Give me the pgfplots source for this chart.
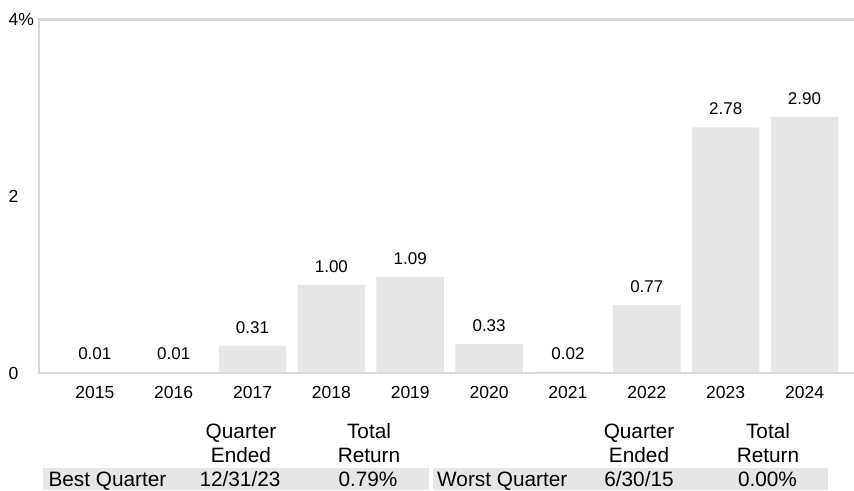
\documentclass[border=0pt]{standalone}
\usepackage{pgfplots}
\pgfplotsset{compat=1.18}
\usepackage{fontspec}
\setmainfont{Liberation Sans}

\definecolor{bargray}{HTML}{E6E6E6}
\definecolor{framegray}{HTML}{D9D9D9}

\begin{document}
\begin{tikzpicture}
\path[use as bounding box] (0,0) rectangle (854pt,490pt);

\begin{axis}[
    at={(39.3pt,116.7pt)}, anchor=south west,
    scale only axis,
    width=828.3pt, height=353.8pt,
    xmin=-0.704, xmax=9.8,
    ymin=0, ymax=4,
    ybar, bar width=67.5pt,
    xtick={0,...,9},
    xticklabels={2015,2016,2017,2018,2019,2020,2021,2022,2023,2024},
    ytick={0,2,4},
    yticklabels={0,2,4\%},
    major tick length=0pt,
    axis on top,
    clip=false,
    axis line style={draw=framegray, line width=2.2pt},
    ticklabel style={font=\fontsize{17.5}{20}\selectfont},
    xticklabel style={anchor=base, inner sep=0pt, yshift=-25pt},
    yticklabel style={anchor=west, inner sep=0pt, xshift=-30.8pt},
    nodes near coords={\pgfmathprintnumber[fixed,fixed zerofill,precision=2,assume math mode=true]{\pgfplotspointmeta}},
    every node near coord/.append style={font=\fontsize{17}{20}\selectfont, anchor=base, inner sep=0pt, yshift=12.5pt, text=black},
  ]
  \addplot[fill=bargray, draw=none] coordinates {
    (0,0.01) (1,0.01) (2,0.31) (3,1.00) (4,1.09)
    (5,0.33) (6,0.02) (7,0.77) (8,2.78) (9,2.90)
  };
\end{axis}

% returns table below the chart
\fill[bargray] (43pt,0pt) rectangle (429pt,22.5pt);
\fill[bargray] (433pt,0pt) rectangle (828pt,22.5pt);
\begin{scope}[every node/.style={inner sep=0pt, anchor=base, font=\fontsize{20.8}{24}\selectfont}]
  \node at (241pt,52pt) {Quarter};
  \node at (241pt,27.5pt) {Ended};
  \node at (369pt,52pt) {Total};
  \node at (369pt,27.5pt) {Return};
  \node at (639pt,52pt) {Quarter};
  \node at (639pt,27.5pt) {Ended};
  \node at (768pt,52pt) {Total};
  \node at (768pt,27.5pt) {Return};
  \node[anchor=base west] at (48.3pt,4pt) {Best Quarter};
  \node at (240pt,4pt) {12/31/23};
  \node at (368pt,4pt) {0.79\%};
  \node[anchor=base west] at (437pt,4pt) {Worst Quarter};
  \node at (639pt,4pt) {6/30/15};
  \node at (767.5pt,4pt) {0.00\%};
\end{scope}
\end{tikzpicture}
\end{document}
